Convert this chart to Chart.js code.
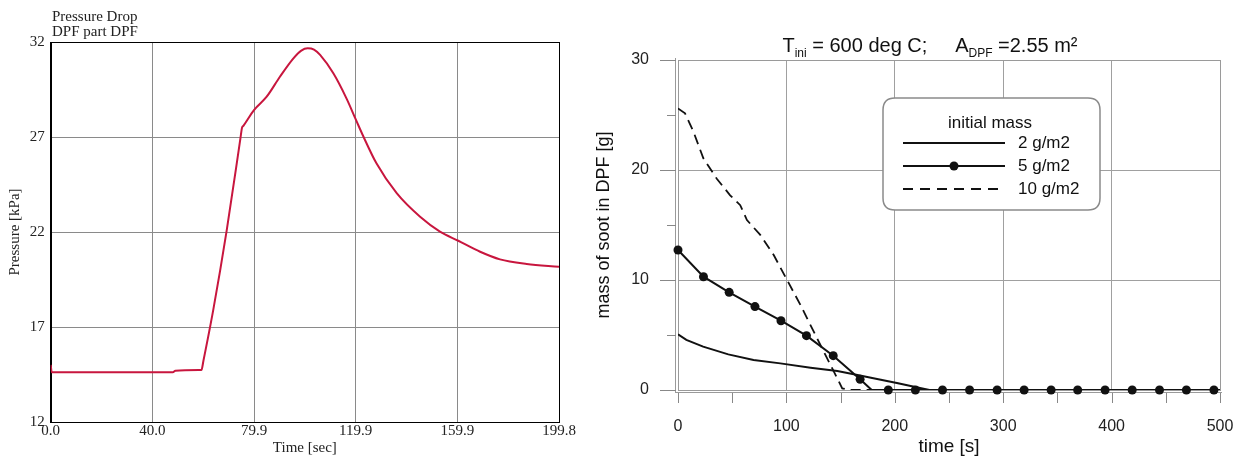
<!DOCTYPE html>
<html><head><meta charset="utf-8">
<script src="https://cdn.jsdelivr.net/npm/chart.js@4/dist/chart.umd.min.js"></script>
<style>
html,body{margin:0;padding:0;background:#fff;}
#wrap{position:relative;width:1234px;height:462px;overflow:hidden;}
#c1{position:absolute;left:0;top:0;}
#c2{position:absolute;left:580px;top:0;}
</style></head><body>
<div id="wrap"><canvas id="c1" width="580" height="462"></canvas><canvas id="c2" width="654" height="462"></canvas></div>
<script>
// ---- Left chart: pressure drop ----
const pTime  = [0, 0.4, 48, 49, 58.8, 59.3, 60, 63.9, 69.2, 74.6, 75.2, 75.8, 79.9, 84.9, 90.1, 95.4, 98.5, 101, 103.5, 105.9, 111.1, 116.3, 120, 123, 128.1, 136, 145.2, 153, 160.2, 168.8, 176.6, 187.1, 199.8];
const pValue = [15.0, 14.62, 14.62, 14.70, 14.74, 14.75, 15.2, 17.9, 22.1, 26.95, 27.49, 27.6, 28.42, 29.12, 30.17, 31.14, 31.55, 31.67, 31.6, 31.32, 30.35, 29.02, 27.9, 27.0, 25.6, 24.04, 22.8, 22.02, 21.54, 20.96, 20.56, 20.32, 20.17];
const pXTicks = [0, 39.96, 79.92, 119.88, 159.84, 199.8];
const pXTickLabels = ['0.0', '40.0', '79.9', '119.9', '159.9', '199.8'];
const pYTicks = [12, 17, 22, 27, 32];
const pTitleLines = ['Pressure Drop', 'DPF part DPF'];

// ---- Right chart: soot mass ----
const t2 = [0, 7.7, 23.2, 46.4, 69.7, 94.4, 122.3, 147, 165.6, 178, 203, 220, 232, 500];
const m2 = [5.06, 4.55, 3.94, 3.24, 2.73, 2.42, 2.03, 1.73, 1.36, 1.12, 0.61, 0.25, 0, 0];
const t5 = [0, 23.5, 47.2, 71, 95, 118.5, 143.2, 168, 178.7, 500];
const m5 = [12.73, 10.3, 8.88, 7.58, 6.3, 4.94, 3.12, 0.97, 0, 0];
const t5Mark = [0, 23.5, 47.2, 71, 95, 118.5, 143.2, 168, 194, 219, 244, 269, 294.4, 319.3, 344.2, 368.7, 394, 419, 444.2, 469, 494.4];
const m5Mark = [12.73, 10.3, 8.88, 7.58, 6.3, 4.94, 3.12, 0.97, 0, 0, 0, 0, 0, 0, 0, 0, 0, 0, 0, 0, 0];
const t10 = [0, 6.5, 14.2, 23.4, 35.8, 48.1, 57.4, 63.6, 75.9, 88.3, 100.6, 113, 122.2, 134.5, 143.8, 151.5, 158, 500];
const m10 = [25.6, 25.15, 23.5, 21.06, 19.2, 17.7, 16.8, 15.45, 14.1, 12.27, 10.0, 7.73, 5.9, 3.48, 1.67, 0.15, 0, 0];
const legendTitle = 'initial mass';
const legendLabels = ['2 g/m2', '5 g/m2', '10 g/m2'];

const SERIF = 'Liberation Serif';
const SANS = 'Liberation Sans';
const toXY = (xs, ys) => xs.map((x, i) => ({x: x, y: ys[i]}));

// Left chart plugins
const leftDeco = {
  id: 'leftDeco',
  beforeDatasetsDraw(chart) {
    const {ctx, chartArea: a} = chart;
    ctx.save();
    ctx.strokeStyle = '#000'; ctx.lineWidth = 1;
    ctx.strokeRect(Math.round(a.left) + 0.5, Math.round(a.top) + 0.5, Math.round(a.right - a.left), Math.round(a.bottom - a.top));
    ctx.restore();
  },
  afterDraw(chart) {
    const {ctx} = chart;
    ctx.save();
    ctx.fillStyle = '#222';
    ctx.font = '15px "' + SERIF + '"';
    ctx.textBaseline = 'middle';
    ctx.fillText(pTitleLines[0], 52, 17);
    ctx.fillText(pTitleLines[1], 52, 32);
    ctx.restore();
  }
};

new Chart(document.getElementById('c1'), {
  type: 'line',
  data: {datasets: [{data: toXY(pTime, pValue), borderColor: '#c8163e', borderWidth: 2, pointRadius: 0, cubicInterpolationMode: 'monotone', fill: false}]},
  options: {
    responsive: false, animation: false,
    plugins: {legend: {display: false}, tooltip: {enabled: false}},
    layout: {padding: {left: 0, right: 21, top: 42, bottom: 0}},
    scales: {
      x: {
        type: 'linear', min: 0, max: 199.8,
        afterBuildTicks: s => { s.ticks = pXTicks.map(v => ({value: v})); },
        afterFit: s => { s.height = 40; },
        ticks: {callback: (v, i) => pXTickLabels[i], font: {family: SERIF, size: 15}, color: '#222', padding: 0, maxRotation: 0, autoSkip: false},
        grid: {color: '#8a8a8a', drawTicks: false},
        border: {display: true, color: '#000', width: 1},
        title: {display: true, text: 'Time [sec]', font: {family: SERIF, size: 15}, color: '#222', padding: {top: 0, bottom: 5}}
      },
      y: {
        min: 12, max: 32,
        afterBuildTicks: s => { s.ticks = pYTicks.map(v => ({value: v})); },
        afterFit: s => { s.width = 50.7; },
        ticks: {font: {family: SERIF, size: 15}, color: '#222', padding: 6},
        grid: {color: '#8a8a8a', drawTicks: false},
        border: {display: true, color: '#000', width: 1},
        title: {display: true, text: 'Pressure [kPa]', font: {family: SERIF, size: 15}, color: '#222', padding: {top: 6, bottom: 0}}
      }
    }
  },
  plugins: [leftDeco]
});

// Right chart plugins
const rightDeco = {
  id: 'rightDeco',
  beforeDatasetsDraw(chart) {
    const {ctx, chartArea: a, scales} = chart;
    ctx.save();
    ctx.strokeStyle = '#9a9a9a'; ctx.lineWidth = 1;
    ctx.strokeRect(Math.round(a.left) + 0.5, Math.round(a.top) + 0.5, Math.round(a.right - a.left), Math.round(a.bottom - a.top));
    ctx.beginPath();
    ctx.moveTo(Math.round(a.left) - 2.5, Math.round(a.top) - 2); ctx.lineTo(Math.round(a.left) - 2.5, Math.round(a.bottom) + 3);
    ctx.moveTo(Math.round(a.left) - 3, Math.round(a.bottom) + 2.5); ctx.lineTo(Math.round(a.right) + 2, Math.round(a.bottom) + 2.5);
    ctx.stroke();
    ctx.strokeStyle = '#888';
    ctx.beginPath();
    scales.y.ticks.forEach(t => {
      const py = Math.round(scales.y.getPixelForValue(t.value)) + 0.5;
      const len = (t.value % 10 === 0) ? 18 : 11;
      ctx.moveTo(a.left - len, py); ctx.lineTo(a.left - 2, py);
    });
    scales.x.ticks.forEach(t => {
      const px = Math.round(scales.x.getPixelForValue(t.value)) + 0.5;
      ctx.moveTo(px, a.bottom + 3); ctx.lineTo(px, a.bottom + 13);
    });
    ctx.stroke();
    ctx.restore();
  },
  afterDraw(chart) {
    const {ctx} = chart;
    ctx.save();
    const parts = [['T', 20, 0], ['ini', 12, 5], [' = 600 deg C;     A', 20, 0], ['DPF', 12, 5], [' =2.55 m\u00b2', 20, 0]];
    let total = 0;
    parts.forEach(p => { ctx.font = p[1] + 'px "' + SANS + '"'; total += ctx.measureText(p[0]).width; });
    let x = 350 - total / 2;
    ctx.fillStyle = '#111';
    ctx.textBaseline = 'alphabetic';
    parts.forEach(p => { ctx.font = p[1] + 'px "' + SANS + '"'; ctx.fillText(p[0], x, 52 + p[2]); x += ctx.measureText(p[0]).width; });

    const bx = 303, by = 98, bw = 217, bh = 112, r = 12;
    ctx.beginPath();
    ctx.moveTo(bx + r, by); ctx.lineTo(bx + bw - r, by); ctx.quadraticCurveTo(bx + bw, by, bx + bw, by + r);
    ctx.lineTo(bx + bw, by + bh - r); ctx.quadraticCurveTo(bx + bw, by + bh, bx + bw - r, by + bh);
    ctx.lineTo(bx + r, by + bh); ctx.quadraticCurveTo(bx, by + bh, bx, by + bh - r);
    ctx.lineTo(bx, by + r); ctx.quadraticCurveTo(bx, by, bx + r, by);
    ctx.closePath();
    ctx.fillStyle = '#fff'; ctx.fill();
    ctx.strokeStyle = '#8a8a8a'; ctx.lineWidth = 1.5; ctx.stroke();
    ctx.fillStyle = '#111';
    ctx.font = '17px "' + SANS + '"';
    ctx.textAlign = 'center'; ctx.textBaseline = 'middle';
    ctx.fillText(legendTitle, 410, 123);
    ctx.textAlign = 'left';
    const rows = [143, 166, 189];
    ctx.strokeStyle = '#111'; ctx.lineWidth = 2;
    rows.forEach((ry, i) => {
      ctx.beginPath();
      ctx.setLineDash(i === 2 ? [10, 7] : []);
      ctx.moveTo(323, ry); ctx.lineTo(425, ry); ctx.stroke();
      ctx.setLineDash([]);
      if (i === 1) { ctx.beginPath(); ctx.arc(374, ry, 4.5, 0, Math.PI * 2); ctx.fill(); }
      ctx.fillText(legendLabels[i], 438, ry);
    });
    ctx.restore();
  }
};

const gridCol = (step) => (c => (c.tick && Math.abs(c.tick.value % step) < 1e-9) ? '#a0a0a0' : 'rgba(0,0,0,0)');

new Chart(document.getElementById('c2'), {
  type: 'line',
  data: {datasets: [
    {label: legendLabels[0], data: toXY(t2, m2), borderColor: '#111', borderWidth: 2, pointRadius: 0, tension: 0, fill: false},
    {label: legendLabels[1], data: toXY(t5, m5), borderColor: '#111', borderWidth: 2, pointRadius: 0, tension: 0, fill: false},
    {label: legendLabels[1] + ' markers', data: toXY(t5Mark, m5Mark), showLine: false, clip: 8, pointRadius: 4.5, pointBackgroundColor: '#111', pointBorderColor: '#111', pointBorderWidth: 0},
    {label: legendLabels[2], data: toXY(t10, m10), borderColor: '#111', borderWidth: 1.8, borderDash: [10, 6], pointRadius: 0, tension: 0, fill: false}
  ]},
  options: {
    responsive: false, animation: false,
    plugins: {legend: {display: false}, tooltip: {enabled: false}},
    layout: {padding: {left: 0, right: 14, top: 60, bottom: 0}},
    scales: {
      x: {
        type: 'linear', min: 0, max: 500,
        afterFit: s => { s.height = 72; },
        ticks: {stepSize: 50, autoSkip: false, maxRotation: 0, callback: v => (v % 100 === 0 ? v : ''), font: {family: SANS, size: 16}, color: '#222', padding: 0},
        grid: {color: gridCol(100), drawTicks: true, tickLength: 27, tickColor: 'rgba(0,0,0,0)'},
        border: {display: false},
        title: {display: true, text: 'time [s]', font: {family: SANS, size: 19}, color: '#111', padding: {top: 0, bottom: 4}}
      },
      y: {
        min: 0, max: 30,
        afterFit: s => { s.width = 98; },
        ticks: {stepSize: 5, autoSkip: false, callback: v => (v % 10 === 0 ? v : ''), font: {family: SANS, size: 16}, color: '#222', padding: 0},
        grid: {color: gridCol(10), drawTicks: true, tickLength: 29, tickColor: 'rgba(0,0,0,0)'},
        border: {display: false},
        title: {display: true, text: 'mass of soot in DPF [g]', font: {family: SANS, size: 18}, color: '#111', padding: {top: 13, bottom: 0}}
      }
    }
  },
  plugins: [rightDeco]
});
</script>
</body></html>
